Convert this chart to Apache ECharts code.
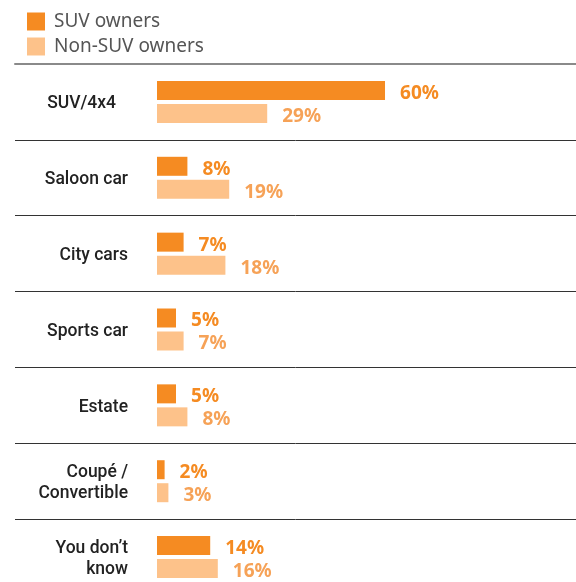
<!DOCTYPE html>
<html><head><meta charset="utf-8">
<script src="https://cdn.jsdelivr.net/npm/echarts@6/dist/echarts.min.js"></script>
<style>html,body{margin:0;padding:0;background:#fff}#c{width:576px;height:582px}</style>
</head><body><div id="c"></div>
<script>
var categories = ['SUV/4x4', 'Saloon car', 'City cars', 'Sports car', 'Estate', 'Coupé /\nConvertible', 'You don’t\nknow'];
var suvOwners = [60, 8, 7, 5, 5, 2, 14];
var nonSuvOwners = [29, 19, 18, 7, 8, 3, 16];
var seriesNames = ['SUV owners', 'Non-SUV owners'];

var chart = echarts.init(document.getElementById('c'), null, {renderer: 'canvas'});
var font = '"Noto Sans", "DejaVu Sans", sans-serif';
var catFont = 'Roboto, "Noto Sans", sans-serif';
function lbl(color) {
  return {show: true, position: 'right', distance: 15, offset: [0, 3], formatter: '{c}%',
    color: color, fontFamily: font, fontWeight: 'bold', fontSize: 19};
}
var catStyle = {fontFamily: catFont, fontSize: 17.5, fontWeight: 500, color: '#222', lineHeight: 21};
chart.setOption({
  animation: false,
  legend: {
    orient: 'vertical', left: 22, top: 7, itemWidth: 18, itemHeight: 18, itemGap: 6,
    icon: 'rect', data: seriesNames,
    textStyle: {fontFamily: font, fontSize: 19, color: '#555', padding: [0, 0, 0, 4]}
  },
  grid: {left: 15, right: 0, top: 64, height: 531, containLabel: false, outerBoundsMode: 'none'},
  xAxis: {
    type: 'value', position: 'top', min: -37.37, max: 110.26,
    axisLine: {show: true, onZero: false, lineStyle: {color: '#8a8a8a', width: 2}},
    axisTick: {show: false}, axisLabel: {show: false}, splitLine: {show: false}, z: 5
  },
  yAxis: {
    type: 'category', data: categories, inverse: true,
    axisLine: {show: false}, axisTick: {show: false},
    splitLine: {show: true, lineStyle: {color: '#333', width: 1}},
    axisLabel: Object.assign({margin: -113, align: 'right',
      formatter: function (v, i) {
        var tag = i === 0 ? 'p' : 'a';
        return v.split('\n').map(function (s) { return '{' + tag + '|' + s + '}'; }).join('\n');
      },
      rich: {
        a: Object.assign({padding: [4, 0, 0, 0]}, catStyle),
        p: Object.assign({padding: [4, 12, 0, 0]}, catStyle)
      }}, catStyle)
  },
  series: [
    {name: seriesNames[0], type: 'bar', data: suvOwners, barWidth: 19, barGap: '21%',
     itemStyle: {color: '#F58B22'}, label: lbl('#F58B22')},
    {name: seriesNames[1], type: 'bar', data: nonSuvOwners, barWidth: 19, barGap: '21%',
     itemStyle: {color: '#FDC28A'}, label: lbl('#F6A257')}
  ]
});
</script></body></html>
